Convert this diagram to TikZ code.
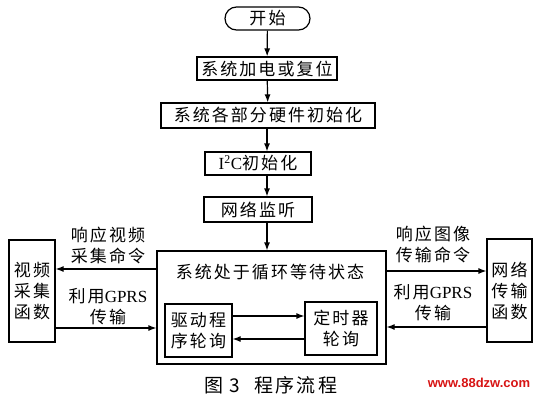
\documentclass[tikz,border=0pt]{standalone}
\usepackage{fontspec}
\usetikzlibrary{arrows.meta}
\setmainfont{Liberation Serif}
\newfontfamily\cjk[LetterSpace=12]{Noto Sans CJK SC}
\newfontfamily\wmfont{Liberation Sans}
\begin{document}
\begin{tikzpicture}[x=1pt, y=-1pt, line width=1.2pt, >={Latex[length=8pt,width=6pt]},
  font=\fontsize{17}{21}\selectfont\cjk,
  box/.style={draw, inner sep=0pt, align=center},
  lbl/.style={inner sep=0pt, align=center}]
  \useasboundingbox (0,0) rectangle (540,401);
  % main flow
  \node[box, rounded corners=11.5pt, minimum width=85pt, minimum height=23pt] (start) at (267.5,18.5) {开始};
  \node[box, minimum width=140pt, minimum height=23pt] (power) at (267,68.5) {系统加电或复位};
  \node[box, minimum width=214pt, minimum height=25pt] (hwinit) at (268,115.5) {系统各部分硬件初始化};
  \node[box, minimum width=106pt, minimum height=23pt] (iic) at (258,163.5) {{\rmfamily I\textsuperscript{2}C}初始化};
  \node[box, minimum width=108pt, minimum height=25pt] (listen) at (258,209.5) {网络监听};
  \node[box, minimum width=229pt, minimum height=113pt] (loop) at (271.5,307.5) {};
  \node[lbl] (looptxt) at (270,272) {系统处于循环等待状态};
  \node[box, minimum width=67pt, minimum height=53pt] (drv) at (198.5,330.5) {驱动程\\序轮询};
  \node[box, minimum width=72pt, minimum height=53pt] (tmr) at (341,328.5) {定时器\\轮询};
  % side functions
  \node[box, minimum width=46pt, minimum height=102pt] (video) at (32,291) {视频\\采集\\函数};
  \node[box, minimum width=45pt, minimum height=103pt] (net) at (509.5,290.5) {网络\\传输\\函数};
  \node[lbl] (cmdL) at (108,246) {响应视频\\采集命令};
  \node[lbl] (gprsL) at (108,307) {利用{\rmfamily GPRS}\\传输};
  \node[lbl] (cmdR) at (433,245) {响应图像\\传输命令};
  \node[lbl] (gprsR) at (433,303) {利用{\rmfamily GPRS}\\传输};
  \draw[->] (start) -- (power);
  \draw[->] (power) -- (hwinit);
  \draw[->] (hwinit.south -| power.south) -- (iic.north -| power.south);
  \draw[->] (iic.south -| power.south) -- (listen.north -| power.south);
  \draw[->] (listen.south -| power.south) -- (loop.north -| power.south);
  \draw[->] ([yshift=14.5pt]drv.east) -- ([yshift=14.5pt]drv.east -| tmr.west);
  \draw[->] ([yshift=-10.5pt]tmr.west) -- ([yshift=-10.5pt]tmr.west -| drv.east);
  \draw[->] ([yshift=38.5pt]loop.west) -- ([yshift=38.5pt]loop.west -| video.east);
  \draw[->] ([yshift=-37pt]video.east) -- ([yshift=-37pt]video.east -| loop.west);
  \draw[->] ([yshift=36.5pt]loop.east) -- ([yshift=36.5pt]loop.east -| net.west);
  \draw[->] ([yshift=-36.5pt]net.west) -- ([yshift=-36.5pt]net.west -| loop.east);
  % caption and mark
  \node[lbl, font=\fontsize{19}{22}\selectfont\cjk] (caption) at (271,385) {图\hspace{6pt}3\hspace{14pt}程序流程};
  \node[lbl, font=\fontsize{13}{15}\selectfont\wmfont\bfseries, text={rgb,255:red,215;green,20;blue,20}] (mark) at (479,383) {www.88dzw.com};
\end{tikzpicture}
\end{document}
